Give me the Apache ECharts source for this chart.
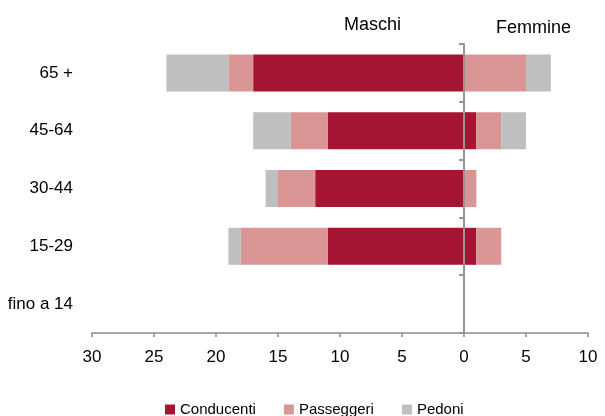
<!DOCTYPE html>
<html>
<head>
<meta charset="utf-8">
<script src="https://cdn.jsdelivr.net/npm/echarts@6/dist/echarts.min.js"></script>
<style>
  html, body { margin: 0; padding: 0; background: #fff; }
  #chart { width: 605px; height: 416px; }
</style>
</head>
<body>
<div id="chart"></div>
<script>
// age groups, bottom to top
const categories = ['fino a 14', '15-29', '30-44', '45-64', '65 +']
const seriesNames = ['Conducenti', 'Passeggeri', 'Pedoni']
const colors = ['#a51433', '#da9694', '#bfbfbf']

// Maschi (drawn to the left)
const maschiConducenti = [0, 11, 12, 11, 17]
const maschiPasseggeri = [0, 7, 3, 3, 2]
const maschiPedoni = [0, 1, 1, 3, 5]

// Femmine (drawn to the right)
const femmineConducenti = [0, 1, 0, 1, 0]
const femminePasseggeri = [0, 2, 1, 2, 5]
const femminePedoni = [0, 0, 0, 2, 2]

const FONT = '"Liberation Sans", Arial, sans-serif'

let maschi = [maschiConducenti, maschiPasseggeri, maschiPedoni]
let femmine = [femmineConducenti, femminePasseggeri, femminePedoni]

function buildSeries() {
  let out = []
  maschi.forEach((values, i) => {
    out.push({
      name: seriesNames[i],
      type: 'bar',
      stack: 'maschi',
      barWidth: '64%',
      barGap: '-100%',
      itemStyle: { color: colors[i] },
      data: values.map(v => -v)
    })
  })
  femmine.forEach((values, i) => {
    out.push({
      name: seriesNames[i],
      type: 'bar',
      stack: 'femmine',
      barWidth: '64%',
      barGap: '-100%',
      itemStyle: { color: colors[i] },
      data: values
    })
  })
  return out
}

let chart = echarts.init(document.getElementById('chart'))
chart.setOption({
  animation: false,
  backgroundColor: '#fff',
  textStyle: { fontFamily: FONT },
  title: [
    {
      text: 'Maschi',
      left: 339,
      top: 11,
      textStyle: { fontFamily: FONT, fontSize: 18, fontWeight: 'normal', color: '#000' }
    },
    {
      text: 'Femmine',
      left: 491,
      top: 14,
      textStyle: { fontFamily: FONT, fontSize: 18, fontWeight: 'normal', color: '#000' }
    }
  ],
  legend: {
    data: seriesNames,
    left: 160,
    top: 397,
    icon: 'rect',
    itemWidth: 10,
    itemHeight: 10,
    itemGap: 28,
    textStyle: { fontFamily: FONT, fontSize: 15, color: '#000' }
  },
  grid: {
    left: 92,
    right: 17,
    top: 44,
    bottom: 83
  },
  xAxis: {
    type: 'value',
    min: -30,
    max: 10,
    interval: 5,
    axisLine: { show: true, onZero: false, lineStyle: { color: '#8c8c8c', width: 1.5 } },
    axisTick: { show: true, length: 4, lineStyle: { color: '#8c8c8c', width: 1.5 } },
    splitLine: { show: false },
    axisLabel: {
      margin: 16,
      color: '#000',
      fontFamily: FONT,
      fontSize: 17,
      formatter: v => String(Math.abs(v))
    }
  },
  yAxis: [
    {
      type: 'category',
      data: categories,
      position: 'left',
      axisLine: { show: false, onZero: false },
      axisTick: { show: false },
      axisLabel: { margin: 19, color: '#000', fontFamily: FONT, fontSize: 17 }
    },
    {
      type: 'category',
      data: categories,
      position: 'left',
      z: 5,
      axisLine: { show: true, onZero: true, lineStyle: { color: '#969696', width: 2 } },
      axisTick: { show: true, length: 5, lineStyle: { color: '#969696', width: 2 } },
      axisLabel: { show: false }
    }
  ],
  series: buildSeries()
})
</script>
</body>
</html>
